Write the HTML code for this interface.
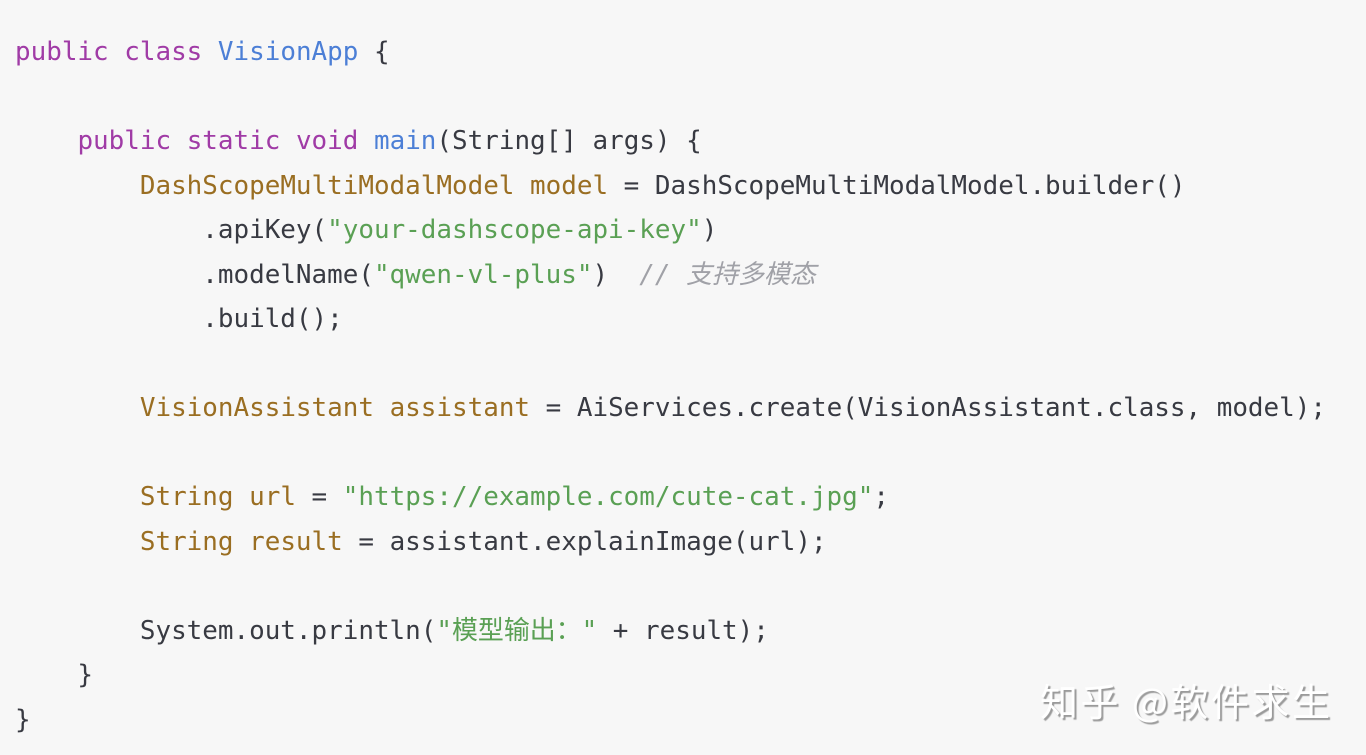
<!DOCTYPE html>
<html><head><meta charset="utf-8"><style>
body{margin:0;width:1366px;height:755px;background:#f7f7f7;overflow:hidden;position:relative}
pre{margin:0;position:absolute;left:15px;top:30px;font-family:"DejaVu Sans Mono","Noto Sans CJK SC",monospace;font-size:25.93px;line-height:44.5px;color:#383a42}
.k{color:#a03ba6}.f{color:#4c7fd6}.t{color:#9a6e22}.s{color:#5aa054}.c{color:#a0a1a7;font-style:italic}
.wm{position:absolute;left:1040px;top:672px;font-family:"Noto Sans CJK SC",sans-serif;font-size:38px;color:#fff;text-shadow:2px 2px 1px #9a9a9a;letter-spacing:2.5px}
</style></head><body>
<pre><span class="k">public</span> <span class="k">class</span> <span class="f">VisionApp</span> {

    <span class="k">public</span> <span class="k">static</span> <span class="k">void</span> <span class="f">main</span>(String[] args) {
        <span class="t">DashScopeMultiModalModel</span> <span class="t">model</span> = DashScopeMultiModalModel.builder()
            .apiKey(<span class="s">"your-dashscope-api-key"</span>)
            .modelName(<span class="s">"qwen-vl-plus"</span>)  <span class="c">// 支持多模态</span>
            .build();

        <span class="t">VisionAssistant</span> <span class="t">assistant</span> = AiServices.create(VisionAssistant.class, model);

        <span class="t">String</span> <span class="t">url</span> = <span class="s">"https://example.com/cute-cat.jpg"</span>;
        <span class="t">String</span> <span class="t">result</span> = assistant.explainImage(url);

        System.out.println(<span class="s">"模型输出："</span> + result);
    }
}</pre>
<div class="wm">知乎 @软件求生</div>
</body></html>
